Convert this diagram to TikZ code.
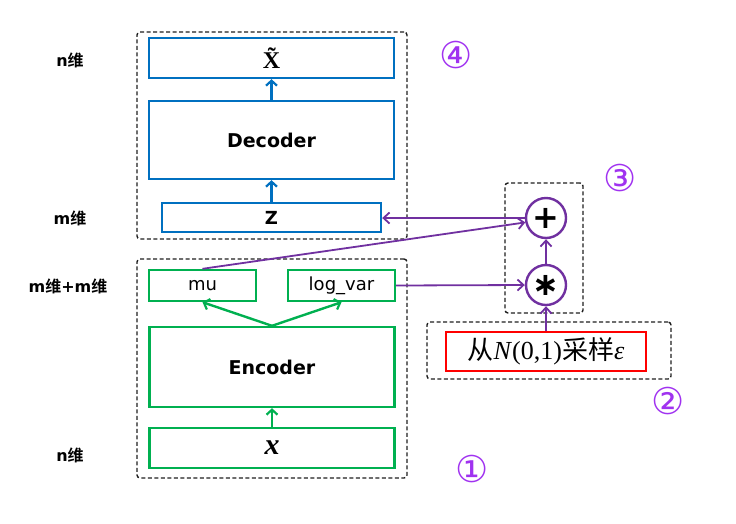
\documentclass[tikz,border=0pt]{standalone}
\usepackage{fontspec}
\setmainfont{Liberation Serif}
\newfontfamily\cjk{Noto Sans CJK SC}[BoldFont={Noto Sans CJK SC Bold}]
\newfontfamily\dvs{DejaVu Sans}
\usetikzlibrary{arrows.meta}
\definecolor{vblue}{RGB}{0,112,192}
\definecolor{vgreen}{RGB}{0,176,80}
\definecolor{vpurple}{RGB}{112,48,160}
\definecolor{vviolet}{RGB}{160,50,240}
\definecolor{vred}{RGB}{255,0,0}
\definecolor{vdash}{RGB}{30,30,30}
\tikzset{
  bluebox/.style={draw=vblue, line width=2.4pt, inner sep=0pt, fill=white},
  greenbox/.style={draw=vgreen, line width=2.4pt, inner sep=0pt, fill=white},
  frame/.style={draw=vdash, line width=1.4pt, dash pattern=on 4pt off 2.5pt, rounded corners=3pt, inner sep=0pt},
  opcirc/.style={circle, draw=vpurple, line width=2.4pt, minimum size=40pt, inner sep=0pt},
  tip/.style={-{Straight Barb[length=5pt,width=11pt,line width=2.2pt]}},
  barrow/.style={tip, draw=vblue, line width=2.4pt},
  garrow/.style={tip, draw=vgreen, line width=2.4pt},
  parrow/.style={-{Straight Barb[length=6pt,width=11pt,line width=1.8pt]}, draw=vpurple, line width=1.8pt},
  dimlabel/.style={font=\dvs\bfseries\fontsize{16}{16}\selectfont, inner sep=0pt},
  circnum/.style={font=\dvs\fontsize{37}{37}\selectfont, text=vviolet, inner sep=0pt},
}
\begin{document}
\begin{tikzpicture}[x=1pt,y=-1pt]
\useasboundingbox (0,0) rectangle (736,523);
% frames
\node[frame, minimum width=270pt, minimum height=207pt] (topframe) at (272,135.5) {};
\node[frame, minimum width=270pt, minimum height=219pt] (botframe) at (272,368.5) {};
\node[frame, minimum width=78pt, minimum height=130pt] (opframe) at (544,248) {};
\node[frame, minimum width=244pt, minimum height=57pt] (sampframe) at (549,350.5) {};
% decoder side
\node[bluebox, minimum width=245pt, minimum height=40pt] (xt) at (271.5,58) {\bfseries\fontsize{24}{24}\selectfont \~{X}};
\node[bluebox, minimum width=245pt, minimum height=78pt] (dec) at (271.5,140) {\dvs\bfseries\fontsize{19}{19}\selectfont Decoder};
\node[bluebox, minimum width=219pt, minimum height=29pt] (z) at (271.5,217.5) {\dvs\bfseries\fontsize{18}{18}\selectfont Z};
% encoder side
\node[greenbox, minimum width=107pt, minimum height=31pt] (mu) at (202.5,285.5) {\dvs\fontsize{18}{18}\selectfont mu};
\node[greenbox, minimum width=107pt, minimum height=31pt] (lv) at (341.5,285.5) {\dvs\fontsize{18}{18}\selectfont log\_var};
\node[greenbox, minimum width=245pt, minimum height=80pt] (enc) at (272,367) {\dvs\bfseries\fontsize{19}{19}\selectfont Encoder};
\node[greenbox, minimum width=245pt, minimum height=40pt] (x) at (272,448) {\bfseries\itshape\fontsize{30}{30}\selectfont x};
% operators
\node[opcirc] (plus) at (546,218) {\dvs\bfseries\fontsize{32}{32}\selectfont +};
\node[opcirc] (star) at (546,285) {\dvs\bfseries\fontsize{32}{32}\selectfont ∗};
\node[draw=vred, line width=2pt, minimum width=200pt, minimum height=39pt, inner sep=0pt] (samp) at (546,351.5)
  {\fontsize{26}{26}\selectfont{\cjk 从}\textit{N}(0,1){\cjk 采样}\textit{ε}};
% arrows
\draw[barrow] (dec.north -| xt.south) -- (xt.south);
\draw[barrow] (z.north) -- (z.north |- dec.south);
\draw[garrow] (x.north) -- (enc.south);
\draw[garrow] (enc.north) -- (mu.south);
\draw[garrow] (enc.north) -- (lv.south);
\draw[parrow] (plus.west) -- (plus.west -| z.east);
\draw[parrow] (mu.north) -- (plus.192);
\draw[parrow] (lv.east) -- (star.west);
\draw[parrow] (samp.north) -- (star.south);
\draw[parrow] (star.north) -- (plus.south);
% labels
\node[dimlabel] (l1) at (70,60) {n{\cjk\bfseries 维}};
\node[dimlabel] (l2) at (70,218) {m{\cjk\bfseries 维}};
\node[dimlabel] (l3) at (68,286) {m{\cjk\bfseries 维}+m{\cjk\bfseries 维}};
\node[dimlabel] (l4) at (70,455) {n{\cjk\bfseries 维}};
\node[circnum] (n4) at (456,55) {④};
\node[circnum] (n3) at (620,178) {③};
\node[circnum] (n2) at (668,401) {②};
\node[circnum] (n1) at (472,469) {①};
\end{tikzpicture}
\end{document}
